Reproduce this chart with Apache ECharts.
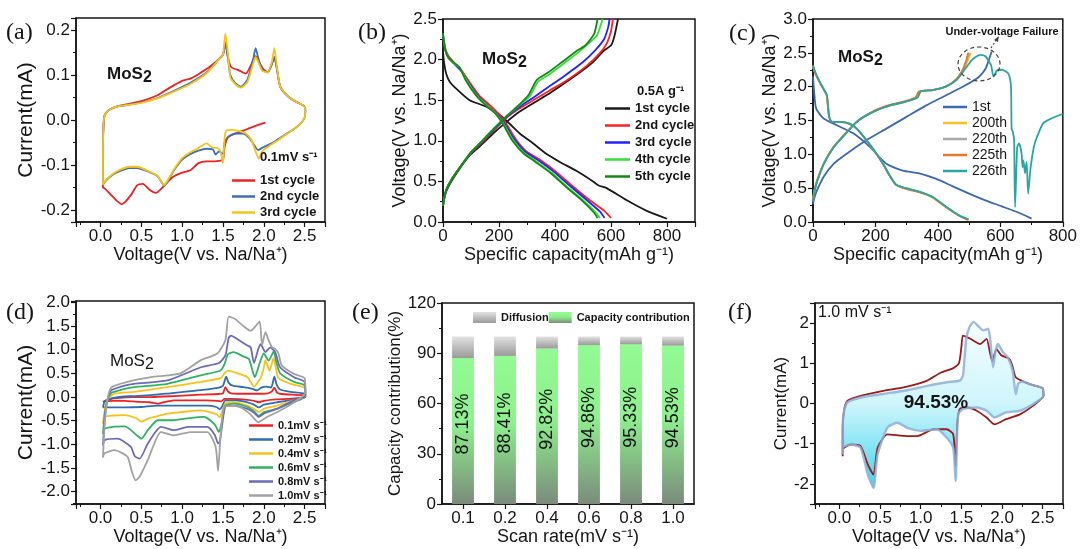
<!DOCTYPE html>
<html>
<head>
<meta charset="utf-8">
<script src="https://cdn.jsdelivr.net/npm/echarts@6/dist/echarts.min.js"></script>
<style>
  html, body { margin: 0; padding: 0; background: #fff; }
  #chart { width: 1080px; height: 549px; }
</style>
</head>
<body>
<div id="chart"></div>
<script>
// ---- (a) CV at 0.1 mV/s, first three cycles  [V, mA]
let cvA1 = [[2.02,-0.006],[1.9,-0.013],[1.8,-0.02],[1.7,-0.027],[1.6,-0.034],[1.55,-0.042],[1.52,-0.06],[1.5,-0.088],[1.4,-0.092],[1.3,-0.092],[1.2,-0.096],[1.1,-0.112],[1.0,-0.117],[0.9,-0.125],[0.82,-0.138],[0.75,-0.152],[0.68,-0.162],[0.6,-0.155],[0.52,-0.142],[0.45,-0.145],[0.38,-0.165],[0.3,-0.183],[0.26,-0.187],[0.2,-0.18],[0.12,-0.165],[0.05,-0.152],[0.03,-0.15],[0.03,-0.08],[0.035,-0.02],[0.05,0.01],[0.1,0.022],[0.2,0.03],[0.35,0.036],[0.5,0.042],[0.7,0.055],[0.85,0.072],[1.0,0.087],[1.1,0.092],[1.2,0.102],[1.35,0.12],[1.5,0.145],[1.53,0.172],[1.56,0.14],[1.6,0.118],[1.7,0.11],[1.78,0.103],[1.85,0.125],[1.9,0.142],[1.94,0.13],[2.0,0.112],[2.05,0.106],[2.1,0.125],[2.13,0.14],[2.16,0.115],[2.2,0.075],[2.3,0.052],[2.4,0.04],[2.48,0.033],[2.5,0.03]];
let cvA2 = [[0.03,-0.144],[0.03,-0.08],[0.035,-0.02],[0.05,0.01],[0.1,0.022],[0.2,0.03],[0.35,0.034],[0.5,0.039],[0.7,0.049],[0.9,0.065],[1.1,0.083],[1.3,0.106],[1.45,0.135],[1.5,0.145],[1.53,0.172],[1.56,0.14],[1.59,0.1],[1.65,0.082],[1.72,0.074],[1.8,0.09],[1.87,0.135],[1.9,0.16],[1.93,0.14],[1.98,0.112],[2.05,0.106],[2.1,0.125],[2.13,0.14],[2.16,0.115],[2.2,0.075],[2.3,0.052],[2.4,0.04],[2.48,0.033],[2.51,0.025],[2.5,0.005],[2.45,-0.008],[2.37,-0.02],[2.25,-0.034],[2.15,-0.046],[2.05,-0.056],[1.98,-0.062],[1.93,-0.067],[1.88,-0.055],[1.82,-0.04],[1.75,-0.03],[1.65,-0.03],[1.56,-0.038],[1.52,-0.05],[1.5,-0.075],[1.45,-0.07],[1.41,-0.077],[1.38,-0.066],[1.3,-0.064],[1.2,-0.068],[1.1,-0.076],[1.0,-0.088],[0.9,-0.112],[0.82,-0.138],[0.78,-0.146],[0.7,-0.125],[0.6,-0.116],[0.45,-0.107],[0.35,-0.107],[0.25,-0.113],[0.15,-0.122],[0.06,-0.136],[0.03,-0.144]];
let cvA3 = [[0.03,-0.144],[0.03,-0.08],[0.035,-0.02],[0.05,0.01],[0.1,0.022],[0.2,0.03],[0.35,0.034],[0.5,0.038],[0.7,0.048],[0.9,0.063],[1.1,0.08],[1.3,0.104],[1.45,0.135],[1.5,0.145],[1.53,0.192],[1.56,0.15],[1.59,0.095],[1.65,0.08],[1.72,0.072],[1.8,0.085],[1.87,0.125],[1.9,0.14],[1.93,0.13],[1.98,0.11],[2.05,0.106],[2.1,0.13],[2.13,0.16],[2.16,0.12],[2.2,0.075],[2.3,0.052],[2.4,0.04],[2.48,0.033],[2.51,0.025],[2.5,0.005],[2.45,-0.008],[2.37,-0.02],[2.25,-0.035],[2.15,-0.048],[2.05,-0.06],[1.98,-0.07],[1.94,-0.086],[1.9,-0.07],[1.85,-0.045],[1.78,-0.03],[1.7,-0.025],[1.6,-0.022],[1.54,-0.024],[1.52,-0.04],[1.5,-0.096],[1.47,-0.07],[1.43,-0.062],[1.38,-0.062],[1.3,-0.052],[1.2,-0.062],[1.1,-0.072],[1.0,-0.085],[0.9,-0.11],[0.82,-0.135],[0.78,-0.145],[0.7,-0.125],[0.6,-0.115],[0.45,-0.104],[0.35,-0.104],[0.25,-0.11],[0.15,-0.12],[0.06,-0.135],[0.03,-0.144]];

// ---- (b) GCD at 0.5 A/g, cycles 1-5  [mAh/g, V]
let disB1 = [[0,2.1],[4,1.96],[12,1.82],[25,1.72],[48,1.64],[95,1.5],[155,1.42],[202,1.32],[238,1.21],[274,1.09],[321,0.97],[369,0.84],[417,0.74],[476,0.63],[536,0.5],[556,0.45],[583,0.42],[655,0.27],[726,0.14],[800,0.04]];
let chgB1 = [[0,0.2],[5,0.3],[12,0.38],[30,0.5],[60,0.66],[95,0.82],[131,0.93],[179,1.09],[226,1.23],[274,1.36],[321,1.46],[369,1.56],[417,1.67],[476,1.81],[536,1.97],[571,2.1],[601,2.18],[613,2.3],[625,2.5]];
let disB2 = [[0,2.3],[8,2.14],[20,2.04],[48,1.93],[70,1.85],[95,1.72],[131,1.55],[167,1.44],[202,1.32],[226,1.21],[262,1.01],[298,0.87],[345,0.77],[400,0.63],[460,0.45],[520,0.28],[575,0.14],[600,0.05]];
let chgB2 = [[0,0.2],[5,0.3],[12,0.4],[30,0.52],[60,0.67],[100,0.85],[140,0.98],[179,1.12],[226,1.28],[274,1.4],[333,1.52],[381,1.62],[440,1.74],[512,1.92],[560,2.08],[585,2.2],[600,2.35],[607,2.5]];
let disB3 = [[0,2.3],[8,2.12],[20,2.02],[45,1.93],[65,1.86],[90,1.72],[125,1.55],[160,1.43],[195,1.32],[222,1.2],[258,1.0],[295,0.86],[340,0.76],[395,0.62],[455,0.44],[510,0.28],[560,0.13],[577,0.05]];
let chgB3 = [[0,0.2],[5,0.3],[12,0.4],[30,0.52],[60,0.67],[100,0.85],[140,0.99],[179,1.13],[226,1.29],[274,1.42],[330,1.55],[375,1.66],[430,1.79],[500,1.97],[545,2.12],[575,2.25],[590,2.4],[595,2.5]];
let disB4 = [[0,2.32],[8,2.12],[20,2.02],[40,1.95],[60,1.9],[85,1.74],[120,1.56],[155,1.44],[190,1.33],[218,1.2],[252,1.0],[290,0.85],[335,0.74],[390,0.6],[448,0.42],[500,0.27],[545,0.12],[560,0.05]];
let chgB4 = [[0,0.2],[5,0.3],[12,0.4],[30,0.52],[60,0.67],[100,0.86],[140,1.0],[179,1.14],[226,1.3],[274,1.44],[310,1.55],[340,1.73],[380,1.82],[430,1.95],[480,2.08],[520,2.2],[550,2.3],[570,2.5]];
let disB5 = [[0,2.32],[8,2.12],[20,2.02],[40,1.96],[60,1.9],[82,1.74],[118,1.56],[152,1.44],[188,1.33],[215,1.2],[248,1.0],[286,0.85],[330,0.74],[385,0.6],[443,0.42],[495,0.27],[538,0.12],[552,0.05]];
let chgB5 = [[0,0.2],[5,0.3],[12,0.4],[30,0.52],[60,0.67],[100,0.86],[140,1.0],[179,1.14],[226,1.3],[274,1.45],[305,1.56],[335,1.75],[375,1.84],[425,1.97],[475,2.1],[510,2.18],[540,2.32],[552,2.5]];

// ---- (c) long cycling, under-voltage failure at 226th
let disC1 = [[0,2.15],[4,1.9],[8,1.72],[13,1.65],[34,1.53],[76,1.43],[129,1.31],[182,1.11],[235,0.86],[287,0.76],[340,0.72],[393,0.64],[446,0.53],[500,0.42],[552,0.32],[605,0.23],[657,0.14],[700,0.05]];
let chgC1 = [[0,0.27],[6,0.38],[13,0.47],[34,0.67],[66,0.86],[108,1.01],[161,1.18],[235,1.38],[298,1.55],[361,1.72],[425,1.87],[488,2.02],[530,2.14],[552,2.26],[565,2.42],[572,2.52]];
let disC200 = [[0,2.3],[7,2.2],[23,2.05],[44,1.87],[48,1.7],[52,1.55],[60,1.48],[87,1.48],[118,1.45],[140,1.38],[171,1.21],[203,1.01],[224,0.86],[245,0.69],[266,0.55],[298,0.49],[340,0.44],[383,0.36],[425,0.22],[467,0.1],[500,0.03]];
let chgC200 = [[0,0.35],[6,0.5],[13,0.62],[34,0.86],[66,1.11],[108,1.33],[140,1.48],[161,1.55],[203,1.65],[245,1.72],[298,1.78],[335,1.84],[345,1.93],[383,1.95],[425,2.0],[460,2.1],[480,2.22],[495,2.38],[505,2.5]];
let disC220 = [[0,2.3],[7,2.2],[23,2.05],[44,1.87],[48,1.7],[52,1.55],[60,1.48],[87,1.48],[118,1.45],[140,1.38],[171,1.21],[203,1.01],[224,0.86],[245,0.69],[266,0.55],[298,0.5],[340,0.45],[383,0.37],[425,0.23],[465,0.1],[497,0.03]];
let chgC220 = [[0,0.33],[6,0.49],[13,0.61],[34,0.86],[66,1.11],[108,1.33],[140,1.48],[161,1.55],[203,1.65],[245,1.72],[298,1.78],[330,1.84],[342,1.93],[383,1.95],[425,2.0],[458,2.1],[478,2.22],[492,2.38],[500,2.5]];
let disC225 = [[0,2.3],[7,2.2],[23,2.05],[44,1.87],[48,1.7],[52,1.55],[60,1.48],[87,1.48],[118,1.45],[140,1.38],[171,1.21],[203,1.01],[224,0.86],[245,0.69],[266,0.55],[298,0.49],[340,0.44],[383,0.37],[425,0.22],[465,0.1],[496,0.03]];
let chgC225 = [[0,0.32],[6,0.48],[13,0.6],[34,0.86],[66,1.11],[108,1.33],[140,1.48],[161,1.55],[203,1.66],[245,1.73],[298,1.79],[328,1.84],[340,1.93],[383,1.95],[425,2.0],[456,2.1],[476,2.22],[490,2.38],[497,2.5]];
let disC226 = [[0,2.32],[7,2.22],[23,2.06],[44,1.88],[48,1.7],[52,1.55],[60,1.48],[87,1.48],[118,1.45],[140,1.38],[171,1.21],[203,1.01],[224,0.86],[245,0.69],[266,0.55],[298,0.5],[340,0.45],[383,0.37],[425,0.23],[467,0.1],[498,0.04]];
let chgC226 = [[0,0.3],[6,0.47],[13,0.6],[34,0.85],[66,1.1],[108,1.32],[140,1.48],[161,1.55],[203,1.65],[245,1.72],[298,1.78],[335,1.84],[345,1.93],[383,1.95],[425,2.0],[460,2.1],[490,2.28],[510,2.4],[535,2.47],[552,2.45],[570,2.32],[578,2.15],[589,2.24],[605,2.25],[626,2.19],[634,2.0],[636,1.38],[640,1.33],[644,1.21],[647,0.22],[654,1.11],[660,1.16],[668,1.01],[671,0.81],[674,0.91],[679,0.72],[684,0.89],[689,0.42],[697,0.81],[710,1.16],[737,1.46],[763,1.53],[800,1.6]];

// ---- (d) CV at different scan rates  [V, mA]
let cvD01 = [[0.03,-0.1],[0.1,-0.05],[0.2,-0.02],[0.4,0.0],[0.62,0.0],[0.9,0.02],[1.23,0.05],[1.45,0.065],[1.5,0.08],[1.53,0.21],[1.56,0.12],[1.6,0.08],[1.75,0.07],[1.92,0.07],[2.05,0.08],[2.1,0.12],[2.13,0.2],[2.16,0.1],[2.2,0.07],[2.35,0.05],[2.5,0.04],[2.51,0.0],[2.45,-0.02],[2.3,-0.04],[2.15,-0.05],[2.0,-0.08],[1.94,-0.11],[1.88,-0.08],[1.8,-0.06],[1.6,-0.04],[1.52,-0.04],[1.48,-0.09],[1.44,-0.08],[1.3,-0.07],[1.1,-0.07],[0.9,-0.07],[0.75,-0.12],[0.7,-0.14],[0.6,-0.11],[0.45,-0.1],[0.3,-0.08],[0.15,-0.08],[0.05,-0.09],[0.03,-0.1]];
let cvD02 = [[0.03,-0.22],[0.05,-0.1],[0.1,-0.05],[0.21,0.0],[0.4,0.02],[0.62,0.04],[0.85,0.08],[1.02,0.11],[1.25,0.15],[1.45,0.2],[1.5,0.24],[1.54,0.43],[1.57,0.3],[1.62,0.24],[1.75,0.21],[1.85,0.18],[1.92,0.14],[1.97,0.2],[2.03,0.22],[2.09,0.2],[2.13,0.43],[2.16,0.25],[2.2,0.16],[2.33,0.11],[2.5,0.07],[2.51,0.0],[2.45,-0.03],[2.35,-0.06],[2.16,-0.11],[2.0,-0.16],[1.94,-0.22],[1.88,-0.16],[1.8,-0.11],[1.65,-0.07],[1.53,-0.07],[1.49,-0.2],[1.46,-0.26],[1.42,-0.21],[1.3,-0.18],[1.1,-0.18],[0.9,-0.18],[0.7,-0.18],[0.5,-0.21],[0.3,-0.22],[0.1,-0.22],[0.03,-0.22]];
let cvD04 = [[0.03,-0.56],[0.05,-0.3],[0.09,-0.04],[0.17,0.07],[0.41,0.11],[0.82,0.21],[1.23,0.32],[1.47,0.4],[1.52,0.5],[1.56,0.56],[1.63,0.53],[1.8,0.42],[1.88,0.22],[1.96,0.4],[2.0,0.62],[2.02,0.78],[2.07,0.56],[2.12,0.82],[2.15,0.6],[2.18,0.4],[2.33,0.28],[2.5,0.2],[2.51,0.03],[2.45,-0.03],[2.37,-0.07],[2.16,-0.18],[2.0,-0.25],[1.94,-0.32],[1.88,-0.25],[1.8,-0.18],[1.63,-0.11],[1.53,-0.13],[1.49,-0.3],[1.46,-0.43],[1.42,-0.36],[1.23,-0.28],[0.98,-0.32],[0.82,-0.35],[0.66,-0.42],[0.58,-0.46],[0.5,-0.52],[0.44,-0.45],[0.3,-0.38],[0.15,-0.39],[0.05,-0.42],[0.03,-0.56]];
let cvD06 = [[0.03,-0.78],[0.05,-0.4],[0.08,-0.1],[0.13,0.08],[0.25,0.15],[0.41,0.21],[0.82,0.28],[1.23,0.46],[1.47,0.56],[1.52,0.7],[1.56,0.9],[1.63,0.95],[1.75,0.86],[1.82,0.8],[1.89,0.42],[1.95,0.72],[2.0,0.92],[2.06,0.77],[2.12,0.96],[2.16,0.7],[2.2,0.5],[2.37,0.32],[2.5,0.25],[2.51,0.04],[2.45,-0.05],[2.37,-0.1],[2.16,-0.25],[2.0,-0.32],[1.94,-0.4],[1.88,-0.3],[1.8,-0.21],[1.63,-0.14],[1.53,-0.18],[1.49,-0.5],[1.45,-0.74],[1.4,-0.58],[1.27,-0.42],[1.02,-0.46],[0.86,-0.49],[0.7,-0.49],[0.58,-0.7],[0.5,-0.88],[0.44,-0.8],[0.3,-0.62],[0.15,-0.63],[0.05,-0.67],[0.03,-0.78]];
let cvD08 = [[0.03,-1.02],[0.05,-0.5],[0.08,-0.1],[0.13,0.14],[0.25,0.22],[0.41,0.28],[0.82,0.35],[1.23,0.63],[1.45,0.72],[1.53,0.88],[1.57,1.25],[1.6,1.3],[1.67,1.23],[1.8,1.09],[1.84,1.05],[1.88,0.72],[1.93,1.0],[1.96,1.12],[2.02,0.95],[2.08,1.05],[2.14,0.95],[2.2,0.63],[2.37,0.42],[2.5,0.32],[2.51,0.05],[2.45,-0.03],[2.37,-0.07],[2.16,-0.25],[2.0,-0.35],[1.94,-0.42],[1.88,-0.33],[1.8,-0.25],[1.63,-0.18],[1.53,-0.2],[1.49,-0.6],[1.46,-0.95],[1.44,-0.98],[1.4,-0.8],[1.31,-0.63],[1.07,-0.63],[0.9,-0.7],[0.74,-0.63],[0.58,-0.98],[0.48,-1.3],[0.42,-1.25],[0.37,-1.05],[0.21,-0.88],[0.05,-0.91],[0.03,-1.02]];
let cvD10 = [[0.03,-1.28],[0.05,-0.6],[0.08,-0.1],[0.13,0.2],[0.33,0.32],[0.62,0.42],[0.98,0.5],[1.23,0.78],[1.43,0.92],[1.53,1.2],[1.57,1.7],[1.65,1.65],[1.75,1.5],[1.84,1.4],[1.9,1.5],[1.95,1.6],[1.98,1.1],[2.02,1.37],[2.06,1.2],[2.1,1.05],[2.14,1.02],[2.18,0.92],[2.22,0.67],[2.37,0.49],[2.5,0.4],[2.51,0.1],[2.45,-0.02],[2.28,-0.21],[2.16,-0.32],[2.04,-0.42],[1.93,-0.53],[1.84,-0.37],[1.72,-0.22],[1.59,-0.18],[1.51,-0.22],[1.47,-0.84],[1.44,-1.56],[1.41,-1.05],[1.31,-0.74],[1.1,-0.74],[0.9,-0.81],[0.74,-0.74],[0.58,-1.33],[0.48,-1.68],[0.43,-1.76],[0.38,-1.55],[0.33,-1.26],[0.17,-1.12],[0.05,-1.19],[0.03,-1.28]];

// ---- (e) capacitive contribution per scan rate
let scanRates = ['0.1', '0.2', '0.4', '0.6', '0.8', '1.0'];
let capPct = [87.13, 88.41, 92.82, 94.86, 95.33, 94.53];
let difPct = [12.87, 11.59, 7.18, 5.14, 4.67, 5.47];

// ---- (f) 1.0 mV/s total vs capacitive current
let cvFtot = [[0.04,-1.31],[0.04,-0.6],[0.06,-0.14],[0.1,0.07],[0.26,0.19],[0.51,0.3],[0.83,0.42],[1.08,0.57],[1.24,0.76],[1.4,0.88],[1.47,1.0],[1.5,1.4],[1.52,1.69],[1.61,1.61],[1.73,1.48],[1.81,1.61],[1.85,1.28],[1.88,1.05],[1.93,1.36],[1.99,1.2],[2.09,1.11],[2.13,0.92],[2.17,0.65],[2.34,0.48],[2.5,0.38],[2.51,0.19],[2.38,-0.06],[2.22,-0.27],[2.05,-0.39],[1.91,-0.52],[1.81,-0.35],[1.69,-0.18],[1.57,-0.1],[1.48,-0.14],[1.45,-0.52],[1.43,-1.56],[1.4,-0.77],[1.32,-0.64],[1.16,-0.64],[0.96,-0.81],[0.83,-0.81],[0.59,-0.77],[0.47,-1.1],[0.42,-1.77],[0.35,-1.52],[0.26,-1.06],[0.14,-1.02],[0.04,-1.14],[0.04,-1.31]];
let cvFcap = [[0.04,-1.27],[0.04,-0.6],[0.06,-0.15],[0.1,0.03],[0.26,0.15],[0.51,0.23],[0.83,0.33],[1.08,0.44],[1.32,0.53],[1.48,0.57],[1.52,0.7],[1.56,1.61],[1.6,1.9],[1.65,2.03],[1.72,1.9],[1.77,1.82],[1.83,1.86],[1.86,1.5],[1.89,0.9],[1.92,1.3],[1.95,1.48],[2.01,1.28],[2.07,1.15],[2.13,0.82],[2.17,0.23],[2.2,0.5],[2.26,0.55],[2.34,0.48],[2.5,0.38],[2.51,0.19],[2.38,-0.02],[2.22,-0.18],[2.05,-0.22],[1.91,-0.35],[1.81,-0.18],[1.69,-0.1],[1.52,-0.14],[1.46,-0.27],[1.43,-1.93],[1.4,-1.1],[1.32,-0.85],[1.2,-0.64],[1.0,-0.68],[0.85,-0.62],[0.71,-0.48],[0.59,-0.6],[0.47,-1.27],[0.42,-2.1],[0.35,-1.77],[0.26,-1.1],[0.14,-1.02],[0.04,-1.1],[0.04,-1.27]];

let sans = 'Liberation Sans, Arial, sans-serif';
let ink = '#151515';

function axis(grid, o) {
  return {
    type: o.type || 'value', gridIndex: grid, min: o.min, max: o.max,
    interval: o.interval, splitNumber: o.split, data: o.data,
    name: o.name, nameLocation: 'middle', nameGap: o.gap,
    nameTextStyle: {fontSize: o.nameSize || 18, color: ink, fontFamily: sans},
    axisLine: {show: true, onZero: false, lineStyle: {color: ink, width: 1.5}},
    axisTick: {show: true, length: 5, alignWithLabel: true, lineStyle: {color: ink, width: 1.2}},
    minorTick: {show: o.type !== 'category', splitNumber: 2, length: 3, lineStyle: {color: ink, width: 1}},
    splitLine: {show: false},
    axisLabel: {
      fontSize: 17, color: ink, fontFamily: sans, margin: 6,
      showMinLabel: o.hideMin ? false : null, showMaxLabel: o.hideMax ? false : null,
      formatter: o.fmt
    }
  };
}

function line(name, data, color, idx, w) {
  return {
    name: name, type: 'line', xAxisIndex: idx, yAxisIndex: idx, data: data,
    symbol: 'none', smooth: 0.2, z: 3,
    lineStyle: {color: color, width: w || 1.8}, itemStyle: {color: color}
  };
}

function legend(names, left, top, gap, size, bold, w) {
  return {
    data: names, orient: 'vertical', left: left, top: top, padding: 0,
    itemGap: gap, itemWidth: w || 24, itemHeight: 2.5, icon: 'rect',
    formatter: n => n.split('|')[1],
    textStyle: {fontSize: size, fontWeight: bold ? 'bold' : 'normal', color: ink, fontFamily: sans}
  };
}

function txt(x, y, s, size, o) {
  o = o || {};
  return {
    type: 'text', x: x, y: y, z: 20,
    style: {
      text: s, fontSize: size, fontWeight: o.bold ? 'bold' : 'normal',
      fontFamily: o.font || sans, fill: ink,
      textAlign: o.align || 'left', align: o.align || 'left',
      textVerticalAlign: 'middle', verticalAlign: 'middle'
    }
  };
}

let f1 = v => v.toFixed(1);
let f0 = v => v.toFixed(0);
let cvName = 'Voltage(V vs. Na/Na\u207A)';
let capName = 'Specific capacity(mAh g\u207B\u00B9)';
let serif = 'Liberation Serif, Times New Roman, serif';

let grids = [
  {left: 76, top: 18, width: 249, height: 204},
  {left: 443, top: 19, width: 252, height: 203},
  {left: 813, top: 19, width: 252, height: 203},
  {left: 76, top: 301, width: 249, height: 203},
  {left: 442, top: 303, width: 252, height: 201},
  {left: 815, top: 303, width: 248, height: 201}
].map(g => Object.assign(g, {show: true, borderColor: ink, borderWidth: 1.5, backgroundColor: 'transparent'}));

let xAxes = [
  axis(0, {min: -0.3, max: 2.75, split: 6, name: cvName, gap: 22, fmt: f1, hideMin: true, hideMax: true}),
  axis(1, {min: 0, max: 900, interval: 200, name: capName, gap: 23, fmt: f0, hideMax: true}),
  axis(2, {min: 0, max: 800, interval: 200, name: capName, gap: 23, fmt: f0}),
  axis(3, {min: -0.3, max: 2.75, split: 6, name: cvName, gap: 24, fmt: f1, hideMin: true, hideMax: true}),
  axis(4, {type: 'category', data: scanRates, name: 'Scan rate(mV s\u207B\u00B9)', gap: 24}),
  axis(5, {min: -0.3, max: 2.75, split: 6, name: cvName, gap: 24, fmt: f1, hideMin: true, hideMax: true})
];
let yAxes = [
  axis(0, {min: -0.227, max: 0.227, split: 5, name: 'Current(mA)', gap: 35, nameSize: 21, fmt: f1, hideMin: true, hideMax: true}),
  axis(1, {min: 0, max: 2.5, interval: 0.5, name: cvName, gap: 32, fmt: f1}),
  axis(2, {min: 0, max: 3, interval: 0.5, name: cvName, gap: 32, fmt: f1}),
  axis(3, {min: -2.26, max: 2.03, split: 8, name: 'Current(mA)', gap: 35, nameSize: 21, fmt: f1, hideMin: true, hideMax: true}),
  axis(4, {min: 0, max: 120, interval: 30, name: 'Capacity contribution(%)', gap: 25, nameSize: 17, fmt: f0}),
  axis(5, {min: -2.5, max: 2.5, split: 5, name: 'Current(mA)', gap: 24, nameSize: 17, fmt: f0, hideMin: true, hideMax: true})
];

let greenFill = new echarts.graphic.LinearGradient(0, 0, 0, 1, [
  {offset: 0, color: '#92fb92'}, {offset: 0.45, color: '#8ef08e'}, {offset: 1, color: '#7b8b7b'}
]);
let grayFill = new echarts.graphic.LinearGradient(0, 0, 0, 1, [
  {offset: 0, color: '#e2e2e2'}, {offset: 1, color: '#9a9a9a'}
]);
let cyanFill = new echarts.graphic.LinearGradient(0, 0, 0, 1, [
  {offset: 0, color: '#f6feff'}, {offset: 0.5, color: '#cdf5fb'}, {offset: 1, color: '#3fd6ee'}
]);

let series = [
  line('a|1st cycle', cvA1, '#ee2222', 0),
  line('a|2nd cycle', cvA2, '#3f6fb2', 0),
  line('a|3rd cycle', cvA3, '#f6c31a', 0),

  line('b|1st cycle', chgB1, '#1a1a1a', 1), line('b|1st cycle', disB1, '#1a1a1a', 1),
  line('b|2nd cycle', chgB2, '#ff2020', 1), line('b|2nd cycle', disB2, '#ff2020', 1),
  line('b|3rd cycle', chgB3, '#2222ff', 1), line('b|3rd cycle', disB3, '#2222ff', 1),
  line('b|4th cycle', chgB4, '#33e033', 1), line('b|4th cycle', disB4, '#33e033', 1),
  line('b|5th cycle', chgB5, '#168816', 1), line('b|5th cycle', disB5, '#168816', 1),

  line('c|1st', chgC1, '#3c68b0', 2), line('c|1st', disC1, '#3c68b0', 2),
  line('c|200th', chgC200, '#f7c21c', 2), line('c|200th', disC200, '#f7c21c', 2),
  line('c|220th', chgC220, '#a9a9a9', 2), line('c|220th', disC220, '#a9a9a9', 2),
  line('c|225th', chgC225, '#e8782a', 2), line('c|225th', disC225, '#e8782a', 2),
  line('c|226th', chgC226, '#2aa6a2', 2), line('c|226th', disC226, '#2aa6a2', 2),

  line('d|0.1mV s\u207B\u00B9', cvD01, '#ee2222', 3),
  line('d|0.2mV s\u207B\u00B9', cvD02, '#2f6db0', 3),
  line('d|0.4mV s\u207B\u00B9', cvD04, '#f8c21e', 3),
  line('d|0.6mV s\u207B\u00B9', cvD06, '#30b262', 3),
  line('d|0.8mV s\u207B\u00B9', cvD08, '#6b6bb8', 3),
  line('d|1.0mV s\u207B\u00B9', cvD10, '#a2a2a2', 3),

  {
    name: 'e|Capacity contribution', type: 'bar', xAxisIndex: 4, yAxisIndex: 4, stack: 'e',
    data: capPct, barWidth: '52%', itemStyle: {color: greenFill},
    label: {
      show: true, position: 'inside', rotate: 90, offset: [7, 0],
      formatter: p => p.value.toFixed(2) + '%',
      fontSize: 18, color: '#111', fontFamily: sans
    }
  },
  {
    name: 'e|Diffusion', type: 'bar', xAxisIndex: 4, yAxisIndex: 4, stack: 'e',
    data: difPct, barWidth: '52%', itemStyle: {color: grayFill}
  },

  {
    type: 'custom', xAxisIndex: 5, yAxisIndex: 5, data: [[0, 0]], z: 1, silent: true, clip: true,
    renderItem: (params, api) => ({
      type: 'polygon',
      shape: {points: cvFcap.map(p => api.coord(p)), smooth: 0.2},
      style: {fill: cyanFill}
    })
  },
  line('f|total', cvFtot, '#9b1b1b', 5, 1.8),
  Object.assign(line('f|cap', cvFcap, 'rgba(140,175,215,0.85)', 5, 2.4), {z: 4})
];

let option = {
  animation: false,
  backgroundColor: '#fff',
  grid: grids,
  xAxis: xAxes,
  yAxis: yAxes,
  legend: [
    legend(['a|1st cycle', 'a|2nd cycle', 'a|3rd cycle'], 232, 174, 3, 13, true, 23),
    legend(['b|1st cycle', 'b|2nd cycle', 'b|3rd cycle', 'b|4th cycle', 'b|5th cycle'], 605, 102, 4, 13, true, 25),
    legend(['c|1st', 'c|200th', 'c|220th', 'c|225th', 'c|226th'], 943, 100, 2, 14, false, 24),
    legend(['d|0.1mV s\u207B\u00B9', 'd|0.2mV s\u207B\u00B9', 'd|0.4mV s\u207B\u00B9', 'd|0.6mV s\u207B\u00B9', 'd|0.8mV s\u207B\u00B9', 'd|1.0mV s\u207B\u00B9'], 249, 420, 3, 11, true, 24),
    {
      data: ['e|Diffusion', 'e|Capacity contribution'], orient: 'horizontal', left: 473, top: 312,
      padding: 0, itemGap: 0, itemWidth: 23, itemHeight: 11, icon: 'rect',
      formatter: n => n.split('|')[1],
      textStyle: {fontSize: 11, fontWeight: 'bold', color: ink, fontFamily: sans}
    }
  ],
  graphic: [
    txt(6, 33, '(a)', 24, {font: serif}),
    txt(358, 33, '(b)', 24, {font: serif}),
    txt(729, 34, '(c)', 24, {font: serif}),
    txt(6, 313, '(d)', 24, {font: serif}),
    txt(352, 313, '(e)', 24, {font: serif}),
    txt(728, 313, '(f)', 24, {font: serif}),

    txt(107, 74, 'MoS', 17, {bold: true}), txt(143, 78, '2', 16, {bold: true}),
    txt(482, 59, 'MoS', 17, {bold: true}), txt(518, 63, '2', 16, {bold: true}),
    txt(838, 57, 'MoS', 17, {bold: true}), txt(874, 61, '2', 16, {bold: true}),
    txt(110, 361, 'MoS', 17), txt(145, 365, '2', 16),

    txt(260, 157, '0.1mV s\u207B\u00B9', 13, {bold: true}),
    txt(637, 91, '0.5A g\u207B\u00B9', 13, {bold: true}),
    txt(1002, 32, 'Under-voltage Failure', 11, {bold: true, align: 'center'}),
    {type: 'ellipse', z: 20, shape: {cx: 979, cy: 64, rx: 21, ry: 17}, style: {fill: 'none', stroke: '#444', lineWidth: 1.2, lineDash: [4, 3]}},
    {type: 'line', z: 20, shape: {x1: 991, y1: 48, x2: 997, y2: 39}, style: {stroke: '#444', lineWidth: 1.2, lineDash: [2, 2]}},
    {type: 'polygon', z: 20, shape: {points: [[999, 36], [994, 40], [998, 42]]}, style: {fill: '#444'}},

    txt(818, 313, '1.0 mV s\u207B\u00B9', 16),
    txt(936, 403, '94.53%', 19, {bold: true, align: 'center'})
  ],
  series: series
};

let myChart = echarts.init(document.getElementById('chart'));
myChart.setOption(option);
</script>
</body>
</html>
